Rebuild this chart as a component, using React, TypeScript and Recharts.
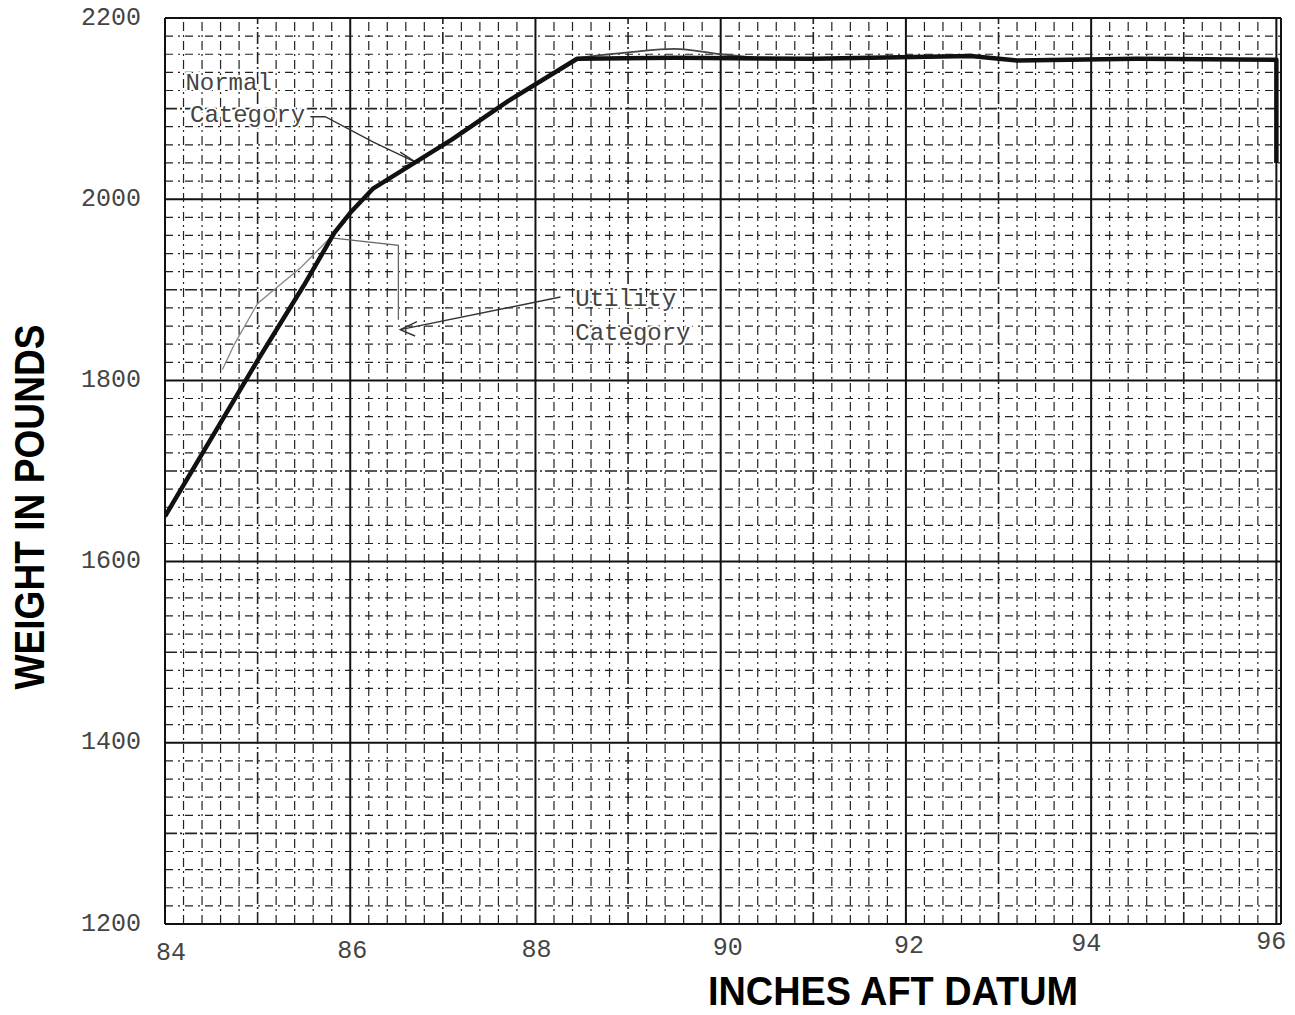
import React from "react";
import { LineChart, Line, XAxis, YAxis, CartesianGrid, ReferenceLine, ReferenceDot } from "recharts";

// ---- tick labels ----
const xTicks = [84, 86, 88, 90, 92, 94, 96];
const yTicks = [1200, 1400, 1600, 1800, 2000, 2200];

// ---- Normal category envelope (thick line) ----
const normalX = [84, 85, 85.5, 85.83, 86, 86.25, 87.1, 87.7, 88.45, 89.5, 91, 92.7, 93.2, 94.5, 96, 96];
const normalW = [1650, 1822, 1905, 1963, 1985, 2012, 2066, 2108, 2155, 2156, 2155, 2158, 2153, 2155, 2154, 2040];

// ---- Utility category envelope (thin line) ----
const utilityX = [84.62, 84.75, 85.0, 85.47, 85.76, 85.95];
const utilityW = [1812, 1840, 1885, 1925, 1955, 1975];

// hand-drawn upper stroke near the top
const upperX = [88.45, 89.0, 89.5, 90.0, 90.4];
const upperW = [2156, 2162, 2166, 2160, 2156];

// utility bracket stroke
const bracketX = [85.82, 86.52, 86.52];
const bracketW = [1957, 1949, 1867];

// annotation leaders
const normalLeaderX = [85.57, 85.73, 86.25, 86.72];
const normalLeaderW = [2091, 2091, 2063, 2040];
const normalArrowX = [86.54, 86.72, 86.56];
const normalArrowW = [2052, 2040, 2036];
const utilityLeaderX = [88.27, 86.54];
const utilityLeaderW = [1892, 1856];
const utilityArrowX = [86.72, 86.54, 86.70];
const utilityArrowW = [1865, 1856, 1849];

// annotation texts
const annotationTexts = ["Normal", "Category", "Utility", "Category"];
const annotationX = [84.22, 84.27, 88.43, 88.43];
const annotationW = [2121, 2085, 1882, 1845];

const zip = (xs: number[], ws: number[]) => xs.map((x, i) => ({ x, w: ws[i] }));

const normalData = zip(normalX, normalW);
const utilityData = zip(utilityX, utilityW);
const upperData = zip(upperX, upperW);
const bracketData = zip(bracketX, bracketW);
const normalLeader = zip(normalLeaderX, normalLeaderW);
const normalArrow = zip(normalArrowX, normalArrowW);
const utilityLeader = zip(utilityLeaderX, utilityLeaderW);
const utilityArrow = zip(utilityArrowX, utilityArrowW);

// graph-paper minor rulings (every 0.2 in, every 20 lb)
const minorX: { v: number; heavy: boolean }[] = [];
for (let i = 1; i < 61; i++) {
  if (i % 10 !== 0) minorX.push({ v: Math.round((84 + i * 0.2) * 10) / 10, heavy: i % 5 === 0 });
}
const minorY: { v: number; heavy: boolean }[] = [];
for (let i = 1; i < 50; i++) {
  if (i % 10 !== 0) minorY.push({ v: 1200 + i * 20, heavy: i % 5 === 0 });
}

const xNudge: Record<number, [number, number]> = {
  84: [6, 6], 86: [2, 4], 88: [1, 3], 90: [7, 1], 92: [3, -1], 94: [-5, -3], 96: [-5, -5],
};

const MONO = "'Liberation Mono', 'DejaVu Sans Mono', monospace";
const SANS = "'Liberation Sans', Arial, sans-serif";

const XTick = (props: any) => {
  const { x, y, payload } = props;
  const n = xNudge[payload.value] || [0, 0];
  return (
    <text x={x + n[0]} y={y + 23 + n[1]} textAnchor="middle" dominantBaseline="central"
      fontFamily={MONO} fontSize={25} fill="#444">
      {payload.value}
    </text>
  );
};

const YTick = (props: any) => {
  const { x, y, payload } = props;
  return (
    <text x={x - 24} y={y} textAnchor="end" dominantBaseline="central"
      fontFamily={MONO} fontSize={25} fill="#444">
      {payload.value}
    </text>
  );
};

const thin = { stroke: "#333", strokeWidth: 1.4, dot: false, isAnimationActive: false, legendType: "none" as const, activeDot: false };

export default function App() {
  return (
    <div style={{ position: "absolute", left: 0, top: 0, width: 1295, height: 1015, background: "#fff" }}>
      <LineChart width={1295} height={1015} margin={{ top: 18, right: 14, bottom: 0, left: 0 }}>
        <XAxis dataKey="x" type="number" domain={[84, 96.05]} ticks={xTicks} allowDataOverflow
          tick={<XTick />} tickLine={false} axisLine={false} tickSize={0} tickMargin={0} height={91}
          label={{
            content: () => (
              <text x={893} y={1005} textAnchor="middle" fontFamily={SANS} fontWeight="bold"
                fontSize={41} textLength={370} lengthAdjust="spacingAndGlyphs" fill="#000">
                INCHES AFT DATUM
              </text>
            ),
          }}
        />
        <YAxis type="number" domain={[1200, 2200]} ticks={yTicks} allowDataOverflow
          tick={<YTick />} tickLine={false} axisLine={false} tickSize={0} tickMargin={0} width={165}
          label={{
            content: () => (
              <text x={44} y={507} transform="rotate(-90, 44, 507)" textAnchor="middle" fontFamily={SANS}
                fontWeight="bold" fontSize={42} textLength={365} lengthAdjust="spacingAndGlyphs" fill="#000">
                WEIGHT IN POUNDS
              </text>
            ),
          }}
        />
        {minorX.map((m) => (
          <ReferenceLine key={"mx" + m.v} x={m.v} stroke="#222" strokeWidth={m.heavy ? 1.6 : 1.2}
            strokeDasharray={m.heavy ? "12 3 2 3" : "9 4 2 4"} ifOverflow="hidden" />
        ))}
        {minorY.map((m) => (
          <ReferenceLine key={"my" + m.v} y={m.v} stroke="#222" strokeWidth={m.heavy ? 1.6 : 1.2}
            strokeDasharray={m.heavy ? "12 3 2 3" : "8 5 2 5"} ifOverflow="hidden" />
        ))}
        <CartesianGrid stroke="#111" strokeWidth={2} strokeOpacity={1} />
        <ReferenceLine x={84} stroke="#111" strokeWidth={2} />
        <ReferenceLine x={96.05} stroke="#111" strokeWidth={2} />
        <ReferenceLine y={2200} stroke="#111" strokeWidth={2} />
        <ReferenceLine y={1200} stroke="#111" strokeWidth={2} />

        <Line data={utilityData} dataKey="w" type="linear" {...thin} stroke="#888" strokeWidth={1.3} />
        <Line data={upperData} dataKey="w" type="monotone" {...thin} stroke="#444" strokeWidth={1.8} />
        <Line data={bracketData} dataKey="w" type="linear" {...thin} stroke="#666" strokeWidth={1.3} />
        <Line data={normalLeader} dataKey="w" type="linear" {...thin} />
        <Line data={normalArrow} dataKey="w" type="linear" {...thin} />
        <Line data={utilityLeader} dataKey="w" type="linear" {...thin} />
        <Line data={utilityArrow} dataKey="w" type="linear" {...thin} />
        <Line data={normalData} dataKey="w" type="linear" stroke="#111" strokeWidth={4.5}
          strokeLinejoin="round" dot={false} activeDot={false} isAnimationActive={false} />

        {annotationTexts.map((t, i) => (
          <ReferenceDot key={"a" + i} x={annotationX[i]} y={annotationW[i]} r={0} fill="none" stroke="none"
            ifOverflow="visible"
            label={{
              content: (p: any) => (
                <text x={p.viewBox.x} y={p.viewBox.y} fontFamily={MONO} fontSize={24} fill="#444"
                  stroke="#fff" strokeWidth={4} paintOrder="stroke">
                  {t}
                </text>
              ),
            }}
          />
        ))}
      </LineChart>
    </div>
  );
}
